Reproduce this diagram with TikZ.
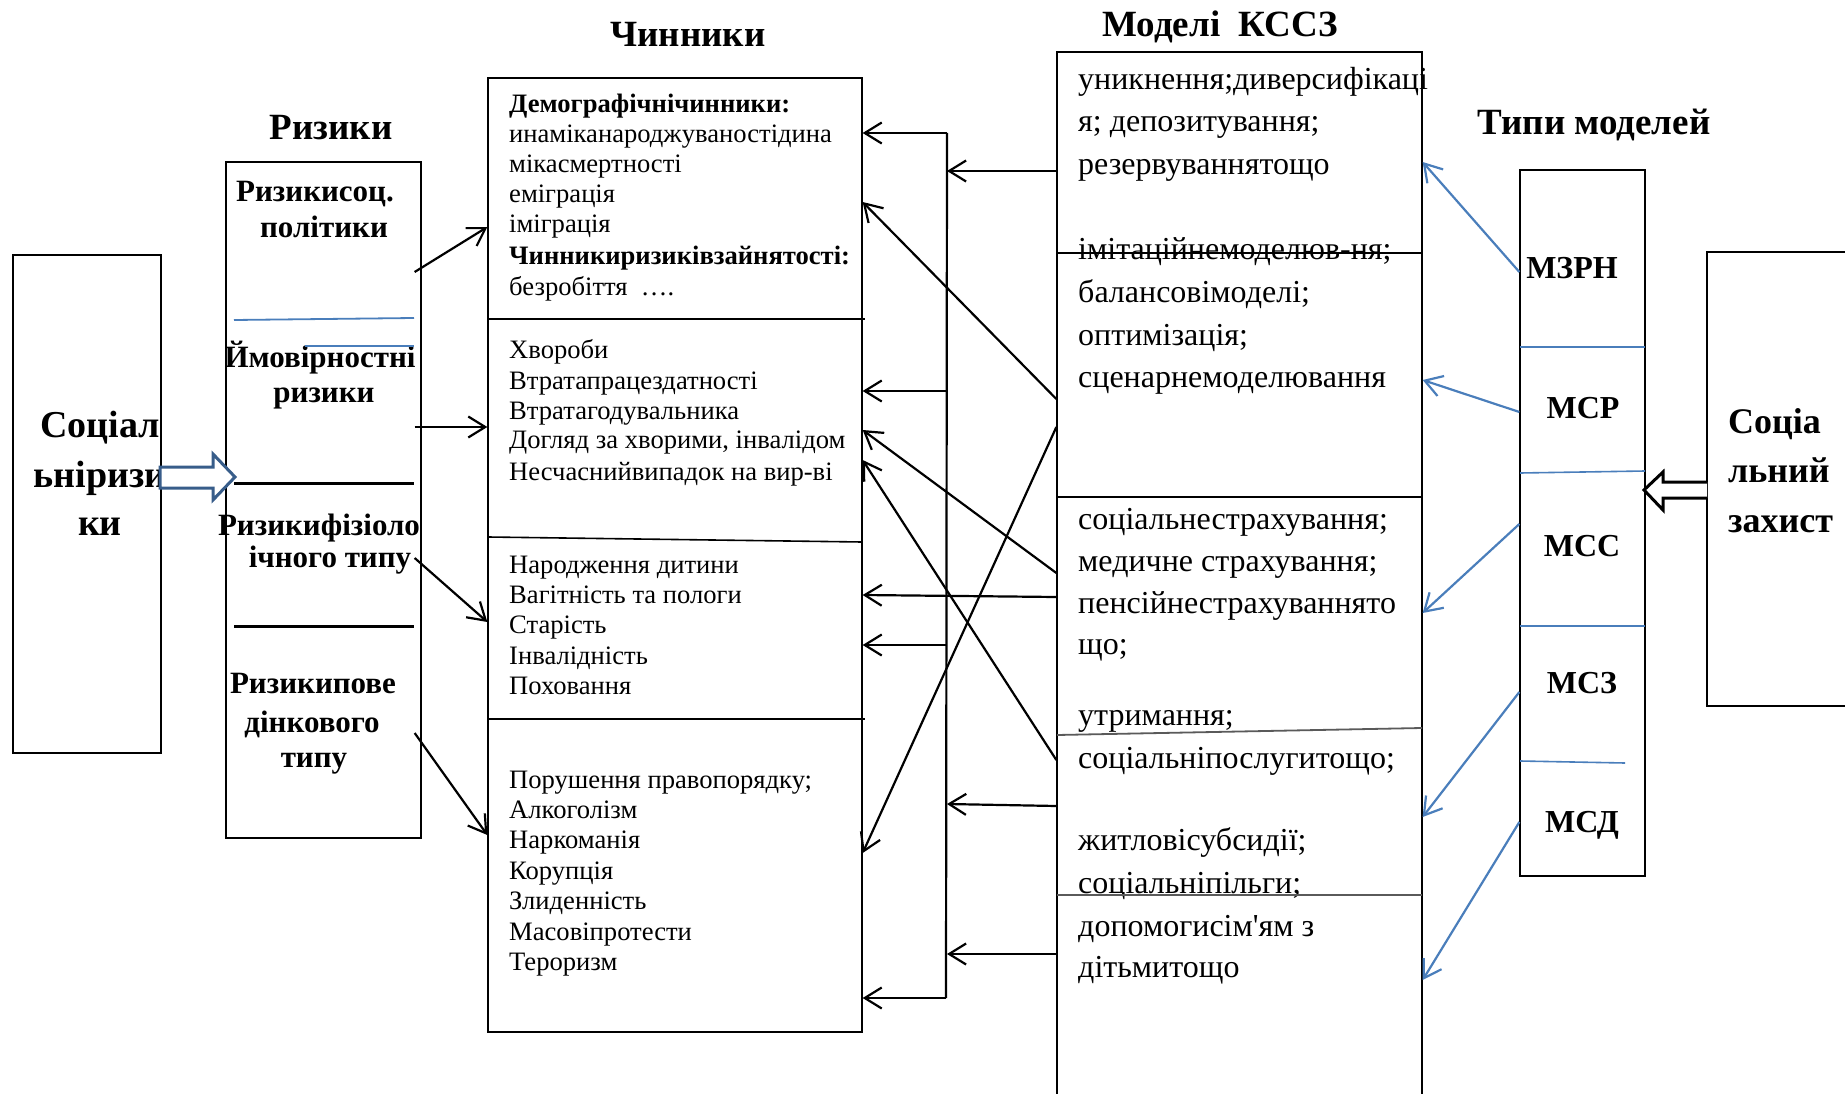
\documentclass[tikz,border=0pt]{standalone}
\usepackage{fontspec}
\setmainfont{Liberation Serif}[Ligatures=TeXOff]
\usetikzlibrary{arrows.meta,calc}
\definecolor{lineblue}{RGB}{74,126,187}
\definecolor{darkblue}{RGB}{56,93,138}
\definecolor{sepgray}{RGB}{90,90,90}
\tikzset{
  box/.style={draw, line width=1.3pt, inner sep=0pt},
  arr/.style={draw, line width=2.2pt, -{Straight Barb[length=17pt,width=21pt]}},
  barr/.style={arr, draw=lineblue},
  title/.style={anchor=base, inner sep=0pt, font=\fontsize{37}{44}\selectfont\bfseries},
  bigtxt/.style={anchor=base, inner sep=0pt, font=\fontsize{38}{46}\selectfont\bfseries},
  sidetxt/.style={anchor=base west, inner sep=0pt, font=\fontsize{36}{44}\selectfont\bfseries},
  risktxt/.style={anchor=base, inner sep=0pt, font=\fontsize{31}{37}\selectfont\bfseries},
  typtxt/.style={anchor=base, inner sep=0pt, font=\fontsize{32}{38}\selectfont\bfseries},
  factxt/.style={anchor=base west, inner sep=0pt, font=\fontsize{26.6}{30}\selectfont},
  modtxt/.style={anchor=base west, inner sep=0pt, font=\fontsize{32}{40}\selectfont}
}
\begin{document}
\begin{tikzpicture}[x=1pt,y=-1pt]
\useasboundingbox (0,0) rectangle (1845,1094);
\clip (0,0) rectangle (1845,1094);

% boxes
\node[box, minimum width=148, minimum height=498] (soc) at (87,504) {};
\node[box, minimum width=195, minimum height=676] (risk) at (323.5,500) {};
\node[box, minimum width=374, minimum height=954] (fac) at (675,555) {};
\node[box, minimum width=365, minimum height=1058] (mod) at (1239.5,581) {};
\node[box, minimum width=125, minimum height=706] (typ) at (1582.5,523) {};
\node[box, minimum width=153, minimum height=454] (prot) at (1783.5,479) {};

% titles
\node[title] (t-risk) at (331,140) {Ризики};
\node[title] (t-fac) at (688,47) {Чинники};
\node[title] (t-mod) at (1220,37) {Моделі\ \ КССЗ};
\node[title] (t-typ) at (1594,135) {Типи моделей};

% side boxes
\node[bigtxt] (soc-1) at (100,437) {Соціал};
\node[bigtxt] (soc-2) at (100,487) {ьніризи};
\node[bigtxt] (soc-3) at (100,535) {ки};
\node[sidetxt] (prot-1) at (1728,433) {Соціа};
\node[sidetxt] (prot-2) at (1728,482) {льний};
\node[sidetxt] (prot-3) at (1728,532) {захист};

% risks
\node[risktxt] (r-1) at (315,202) {Ризикисоц.};
\node[risktxt] (r-2) at (324,238) {політики};
\node[risktxt] (r-3) at (320,367) {Ймовірностні};
\node[risktxt] (r-4) at (324,402) {ризики};
\node[risktxt] (r-5) at (319,535) {Ризикифізіоло};
\node[risktxt] (r-6) at (330,567) {ічного типу};
\node[risktxt] (r-7) at (313,693) {Ризикипове};
\node[risktxt] (r-8) at (312,732) {дінкового};
\node[risktxt] (r-9) at (314,767) {типу};
\draw[lineblue, line width=1.8pt] (234,320) -- (414,318);
\draw[lineblue, line width=1.3pt] (305,346) -- (414,346);
\draw[line width=3pt] (234,483) -- (414,483);
\draw[line width=3pt] (234,626) -- (414,626);

% factors
\foreach \y/\txt in {113/\textbf{Демографічнічинники:}, 143/инаміканароджуваностідина,
  173/мікасмертності, 203/еміграція, 233/іміграція, 265/\textbf{Чинникиризиківзайнятості:},
  295/безробіття\ \ …., 358/Хвороби, 389/Втратапрацездатності, 419/Втратагодувальника,
  448/{Догляд за хворими, інвалідом}, 480/Несчаснийвипадок на вир-ві,
  573/Народження дитини, 603/Вагітність та пологи, 633/Старість, 664/Інвалідність,
  694/Поховання, 788/Порушення правопорядку;, 818/Алкоголізм, 848/Наркоманія,
  879/Корупція, 909/Злиденність, 940/Масовіпротести, 970/Тероризм}
  \node[factxt] (f-\y) at (509,\y) {\txt};
\draw[line width=1.6pt] (fac.west|-0,319) -- (865,319);
\draw[line width=1.6pt] (488,537) -- (862,542);
\draw[line width=1.6pt] (fac.west|-0,719) -- (865,719);

% models
\foreach \y/\txt in {90/уникнення;диверсифікаці, 132/я; депозитування;, 175/резервуваннятощо,
  260/імітаційнемоделюв-ня;, 302/балансовімоделі;, 345/оптимізація;, 387/сценарнемоделювання,
  529/соціальнестрахування;, 571/медичне страхування;, 613/пенсійнестрахуваннято, 654/що;,
  725/утримання;, 768/соціальніпослугитощо;, 850/житловісубсидії;, 893/соціальніпільги;,
  936/допомогисім'ям з, 977/дітьмитощо}
  \node[modtxt] (m-\y) at (1078,\y) {\txt};
\draw[line width=2pt] (mod.west|-0,253) -- (mod.east|-0,253);
\draw[line width=2pt] (mod.west|-0,497) -- (mod.east|-0,497);
\draw[sepgray, line width=1.8pt] (1057,735) -- (1422,728);
\draw[sepgray, line width=1.8pt] (1057,895) -- (1422,895);

% model types
\node[typtxt] (ty-1) at (1572,279) {МЗРН};
\node[typtxt] (ty-2) at (1583,418) {МСР};
\node[typtxt] (ty-3) at (1582,556) {МСС};
\node[typtxt] (ty-4) at (1582,693) {МСЗ};
\node[typtxt] (ty-5) at (1582,832) {МСД};
\draw[lineblue, line width=1.6pt] (1520,347) -- (1645,347);
\draw[lineblue, line width=1.6pt] (1520,473) -- (1645,471);
\draw[lineblue, line width=1.6pt] (1520,626) -- (1645,626);
\draw[lineblue, line width=1.6pt] (1520,761) -- (1625,763);

% hollow arrows
\draw[darkblue, fill=white, line width=3pt] (160,467) -- (213,467) -- (213,454) -- (235,477)
  -- (213,500) -- (213,488) -- (160,488) -- cycle;
\draw[fill=white, line width=3pt] (1707,482) -- (1663,482) -- (1663,472) -- (1644,490)
  -- (1663,510) -- (1663,498) -- (1707,498);

% risks -> factors
\draw[arr] ($(risk.east|-0,272)+(-7,0)$) -- (fac.west|-0,227);
\draw[arr] ($(risk.east|-0,427)+(-7,0)$) -- (fac.west|-0,427);
\draw[arr] ($(risk.east|-0,558)+(-7,0)$) -- (fac.west|-0,622);
\draw[arr] ($(risk.east|-0,733)+(-7,0)$) -- (fac.west|-0,835);

% models -> factors
\coordinate (bus-top) at (947,133);
\coordinate (bus-bot) at (946,998);
\draw[line width=2.2pt] (bus-top) -- (bus-bot);
\draw[arr] (bus-top) -- (fac.east|-bus-top);
\draw[arr] (bus-top|-0,391) -- (fac.east|-0,391);
\draw[arr] (bus-top|-0,645) -- (fac.east|-0,645);
\draw[arr] (bus-bot) -- (fac.east|-bus-bot);
\draw[arr] (mod.west|-0,171) -- (bus-top|-0,171);
\draw[arr] (mod.west|-0,806) -- (bus-top|-0,804);
\draw[arr] (mod.west|-0,954) -- (bus-top|-0,954);
\draw[arr] (mod.west|-0,399) -- (fac.east|-0,202);
\draw[arr] (mod.west|-0,573) -- (fac.east|-0,430);
\draw[arr] (mod.west|-0,597) -- (fac.east|-0,595);
\draw[arr] (mod.west|-0,760) -- (fac.east|-0,460);
\draw[arr] (mod.west|-0,427) -- (fac.east|-0,853);

% types -> models
\draw[barr] (typ.west|-0,272) -- (mod.east|-0,162);
\draw[barr] (typ.west|-0,412) -- (mod.east|-0,380);
\draw[barr] (typ.west|-0,524) -- (mod.east|-0,613);
\draw[barr] (typ.west|-0,692) -- (mod.east|-0,817);
\draw[barr] (typ.west|-0,822) -- (mod.east|-0,980);
\end{tikzpicture}
\end{document}
